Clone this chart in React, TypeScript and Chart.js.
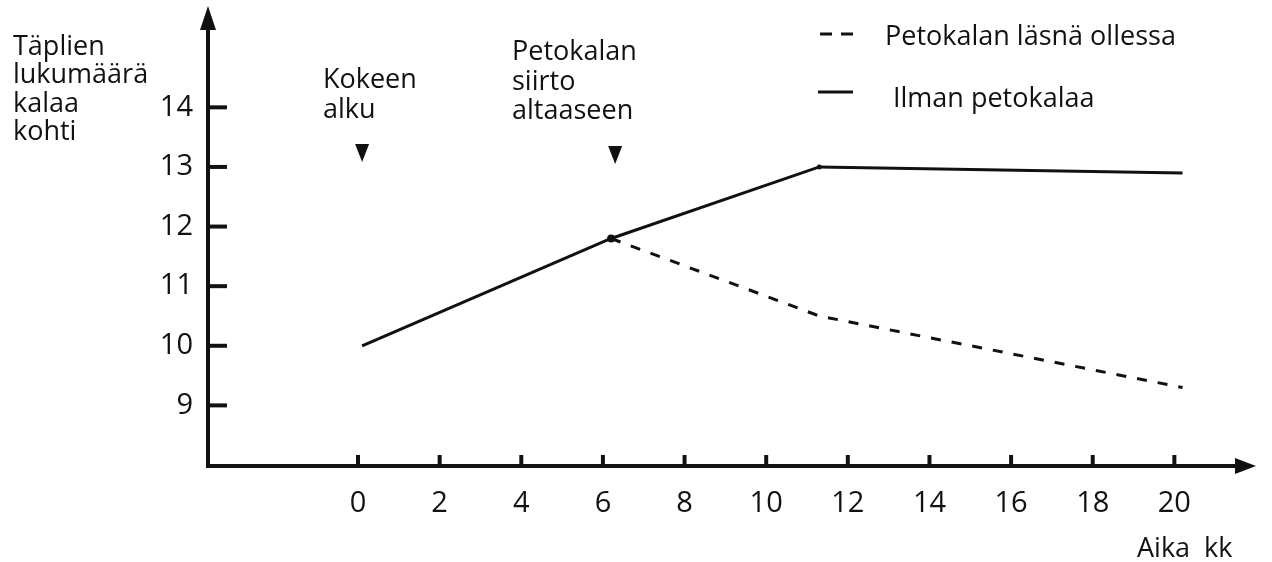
import React, { useEffect, useRef } from "react";
import { Chart, registerables } from "chart.js";

Chart.register(...registerables);

// ---- data ----
const monthsWithout = [0.1, 6.2, 11.3, 20.2];
const spotsWithout = [10, 11.8, 13.0, 12.9];
const monthsWith = [6.2, 11.3, 20.2];
const spotsWith = [11.8, 10.5, 9.3];
const xTickValues = [0, 2, 4, 6, 8, 10, 12, 14, 16, 18, 20];
const yTickValues = [9, 10, 11, 12, 13, 14];
const seriesLabels = ["Petokalan läsnä ollessa", "Ilman petokalaa"];
const yTitleLines = ["Täplien", "lukumäärä", "kalaa", "kohti"];
const xTitle = "Aika  kk";
const startLines = ["Kokeen", "alku"];
const transferLines = ["Petokalan", "siirto", "altaaseen"];
const eventMonths = [0.1, 6.3];

const FONT = "'Open Sans', 'DejaVu Sans', sans-serif";
const INK = "#111111";
const TEXT_SIZE = 27;
const TICK_SIZE = 29;

const decorPlugin = {
  id: "decor",
  beforeDatasetsDraw(chart: any) {
    const { ctx, chartArea } = chart;
    const { left, right, top, bottom } = chartArea;
    const xs = chart.scales.x;
    const ys = chart.scales.y;
    const ax = left + 1;
    const ay = bottom + 1;
    ctx.save();
    ctx.strokeStyle = INK;
    ctx.fillStyle = INK;
    ctx.lineWidth = 4;
    ctx.lineCap = "butt";
    // y axis
    ctx.beginPath();
    ctx.moveTo(ax, ay + 2);
    ctx.lineTo(ax, top + 18);
    ctx.stroke();
    ctx.beginPath();
    ctx.moveTo(ax, top);
    ctx.lineTo(ax - 8, top + 24);
    ctx.lineTo(ax + 8, top + 24);
    ctx.closePath();
    ctx.fill();
    // x axis
    ctx.beginPath();
    ctx.moveTo(ax - 2, ay);
    ctx.lineTo(right - 16, ay);
    ctx.stroke();
    ctx.beginPath();
    ctx.moveTo(right, ay);
    ctx.lineTo(right - 21, ay - 8);
    ctx.lineTo(right - 21, ay + 8);
    ctx.closePath();
    ctx.fill();
    // y ticks (inward)
    yTickValues.forEach((v) => {
      const y = ys.getPixelForValue(v);
      ctx.beginPath();
      ctx.moveTo(ax, y);
      ctx.lineTo(ax + 19, y);
      ctx.stroke();
    });
    // x ticks (inward)
    xTickValues.forEach((v) => {
      const x = xs.getPixelForValue(v);
      ctx.beginPath();
      ctx.moveTo(x, ay);
      ctx.lineTo(x, ay - 11);
      ctx.stroke();
    });
    ctx.restore();
  },
  afterDraw(chart: any) {
    const { ctx } = chart;
    const xs = chart.scales.x;
    ctx.save();
    ctx.fillStyle = INK;
    ctx.strokeStyle = INK;
    ctx.font = `${TEXT_SIZE}px ${FONT}`;
    ctx.textAlign = "left";
    ctx.textBaseline = "alphabetic";
    // y title
    const yBase = [55, 83, 112, 140];
    yTitleLines.forEach((t, i) => ctx.fillText(t, 13, yBase[i]));
    // event annotations
    const sBase = [88, 118];
    startLines.forEach((t, i) => ctx.fillText(t, 323, sBase[i]));
    const tBase = [60, 90, 119];
    transferLines.forEach((t, i) => ctx.fillText(t, 512, tBase[i]));
    // triangles
    const triTops = [144, 146];
    eventMonths.forEach((m, i) => {
      const x = xs.getPixelForValue(m);
      const y0 = triTops[i];
      ctx.beginPath();
      ctx.moveTo(x - 7, y0);
      ctx.lineTo(x + 7, y0);
      ctx.lineTo(x, y0 + 18);
      ctx.closePath();
      ctx.fill();
    });
    // x title
    ctx.fillText(xTitle, 1137, 557);
    // legend
    ctx.lineWidth = 3;
    ctx.beginPath();
    ctx.moveTo(820, 34);
    ctx.lineTo(832, 34);
    ctx.moveTo(841, 34);
    ctx.lineTo(853, 34);
    ctx.stroke();
    ctx.beginPath();
    ctx.moveTo(818, 92);
    ctx.lineTo(853, 92);
    ctx.stroke();
    ctx.fillText(seriesLabels[0], 885, 45);
    ctx.fillText(seriesLabels[1], 893, 107);
    ctx.restore();
  },
};

export default function App() {
  const canvasRef = useRef<HTMLCanvasElement | null>(null);

  useEffect(() => {
    document.body.style.margin = "0";
    const canvas = canvasRef.current;
    if (!canvas) return;
    const chart = new Chart(canvas, {
      type: "line",
      data: {
        datasets: [
          {
            label: seriesLabels[1],
            data: monthsWithout.map((m, i) => ({ x: m, y: spotsWithout[i] })),
            borderColor: INK,
            backgroundColor: INK,
            borderWidth: 3,
            pointRadius: [0, 4, 2.5, 0],
            pointBorderWidth: 0,
            pointBackgroundColor: INK,
            tension: 0,
          },
          {
            label: seriesLabels[0],
            data: monthsWith.map((m, i) => ({ x: m, y: spotsWith[i] })),
            borderColor: INK,
            backgroundColor: INK,
            borderWidth: 3,
            borderDash: [10, 11],
            pointRadius: 0,
            tension: 0,
          },
        ],
      },
      options: {
        animation: false,
        responsive: false,
        devicePixelRatio: 1,
        layout: { padding: { top: 6, right: 16, left: 0, bottom: 0 } },
        plugins: {
          legend: { display: false },
          tooltip: { enabled: false },
        },
        scales: {
          x: {
            type: "linear",
            min: -3.7,
            max: 22,
            grid: { display: false, drawTicks: false },
            border: { display: false },
            afterBuildTicks: (s: any) => {
              s.ticks = xTickValues.map((v) => ({ value: v }));
            },
            afterFit: (s: any) => {
              s.height = 97;
              s.paddingLeft = 0;
              s.paddingRight = 0;
            },
            ticks: {
              color: INK,
              padding: 21,
              maxRotation: 0,
              autoSkip: false,
              font: { family: FONT, size: TICK_SIZE },
              callback: (v: any) => String(v),
            },
          },
          y: {
            type: "linear",
            min: 8,
            max: 15.7,
            grid: { display: false, drawTicks: false },
            border: { display: false },
            afterBuildTicks: (s: any) => {
              s.ticks = yTickValues.map((v) => ({ value: v }));
            },
            afterFit: (s: any) => {
              s.width = 207;
              s.paddingTop = 0;
              s.paddingBottom = 0;
            },
            ticks: {
              color: INK,
              padding: 14,
              autoSkip: false,
              font: { family: FONT, size: TICK_SIZE },
              callback: (v: any) => String(v),
            },
          },
        },
      },
      plugins: [decorPlugin],
    });
    return () => chart.destroy();
  }, []);

  return (
    <div style={{ width: 1272, height: 562, background: "#fff" }}>
      <canvas ref={canvasRef} width={1272} height={562} style={{ display: "block", width: 1272, height: 562 }} />
    </div>
  );
}
